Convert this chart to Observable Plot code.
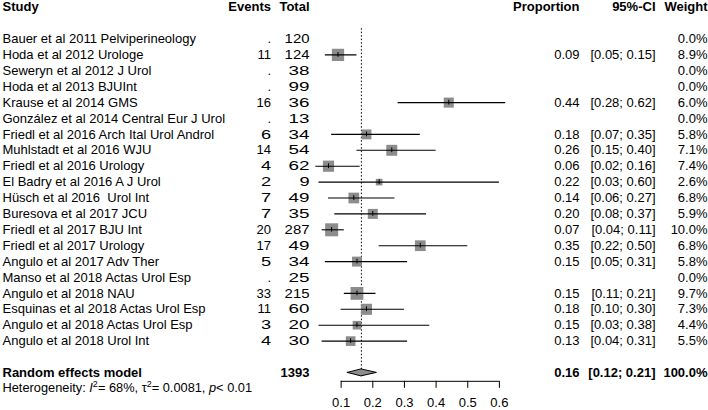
<!DOCTYPE html>
<html><head><meta charset="utf-8">
<script src="https://cdn.jsdelivr.net/npm/d3@7"></script>
<script src="https://cdn.jsdelivr.net/npm/@observablehq/plot@0.6"></script>
<style>
html,body{margin:0;padding:0;background:#fff}
svg{display:block}
text{white-space:pre}
</style>
</head><body><div id="chart"></div>
<script>
// ---- data ----
const studies = [
  "Bauer et al 2011 Pelviperineology",
  "Hoda et al 2012 Urologe",
  "Seweryn et al 2012 J Urol",
  "Hoda et al 2013 BJUInt",
  "Krause et al 2014 GMS",
  "González et al 2014 Central Eur J Urol",
  "Friedl et al 2016 Arch Ital Urol Androl",
  "Muhlstadt et al 2016 WJU",
  "Friedl et al 2016 Urology",
  "El Badry et al 2016 A J Urol",
  "Hüsch et al 2016  Urol Int",
  "Buresova et al 2017 JCU",
  "Friedl et al 2017 BJU Int",
  "Friedl et al 2017 Urology",
  "Angulo et al 2017 Adv Ther",
  "Manso et al 2018 Actas Urol Esp",
  "Angulo et al 2018 NAU",
  "Esquinas et al 2018 Actas Urol Esp",
  "Angulo et al 2018 Actas Urol Esp",
  "Angulo et al 2018 Urol Int"
];
const events     = [null, 11, null, null, 16, null, 6, 14, 4, 2, 7, 7, 20, 17, 5, null, 33, 11, 3, 4];
const totals     = [120, 124, 38, 99, 36, 13, 34, 54, 62, 9, 49, 35, 287, 49, 34, 25, 215, 60, 20, 30];
const proportion = [null, 0.09, null, null, 0.44, null, 0.18, 0.26, 0.06, 0.22, 0.14, 0.20, 0.07, 0.35, 0.15, null, 0.15, 0.18, 0.15, 0.13];
const ciLower    = [null, 0.05, null, null, 0.28, null, 0.07, 0.15, 0.02, 0.03, 0.06, 0.08, 0.04, 0.22, 0.05, null, 0.11, 0.10, 0.03, 0.04];
const ciUpper    = [null, 0.15, null, null, 0.62, null, 0.35, 0.40, 0.16, 0.60, 0.27, 0.37, 0.11, 0.50, 0.31, null, 0.21, 0.30, 0.38, 0.31];
const weights    = [0.0, 8.9, 0.0, 0.0, 6.0, 0.0, 5.8, 7.1, 7.4, 2.6, 6.8, 5.9, 10.0, 6.8, 5.8, 0.0, 9.7, 7.3, 4.4, 5.5];

const pooledLabel = "Random effects model";
const pooledTotal = 1393;
const pooledEstimate = 0.164;
const pooledLower = 0.121;
const pooledUpper = 0.213;
const pooledWeight = 100.0;

const hetI2 = "68%";
const hetTau2 = "0.0081";
const hetP = "< 0.01";

const axisTicks = [0.1, 0.2, 0.3, 0.4, 0.5, 0.6];
const headers = {study: "Study", events: "Events", total: "Total", prop: "Proportion", ci: "95%-CI", weight: "Weight"};

// ---- table built from the arrays ----
const rows = studies.map((s, i) => ({
  i, study: s, events: events[i], total: totals[i],
  est: proportion[i], lo: ciLower[i], hi: ciUpper[i], w: weights[i]
}));
const withEst = rows.filter(d => d.est != null);

// ---- layout ----
const W = 708, H = 410;
const x0 = 309, pxPerUnit = 316.5;            // pixel of value 0, pixels per unit
const rowTop = 38.5, rowStep = 15.9;          // pixel centre of first row, row height
const xDomain = [-x0 / pxPerUnit, (W - x0) / pxPerUnit];
const yDomain = [-rowTop / rowStep, (H - rowTop) / rowStep];
const headerRow = -2, pooledRow = 21, hetRow = 21.95, axisRow = 21.53, tickLen = 0.44, tickLabelRow = 22.88;
const col = {study: 2, events: 270.5, total: 309, prop: 579, ci: 655, weight: 707};
const gray = "#8c8c8c";
const font = "'Liberation Sans', Arial, Helvetica, sans-serif";
const fmtCI = (lo, hi) => `[${lo.toFixed(2)}; ${hi.toFixed(2)}]`;
// near-black marker colours used only to find text groups after rendering
const tagEvents = "#000001", tagTotals = "#000002", tagHet = "#000003";

const diamondH = 0.22;
const diamond = [
  {x: pooledLower, y1: pooledRow, y2: pooledRow},
  {x: pooledEstimate, y1: pooledRow - diamondH, y2: pooledRow + diamondH},
  {x: pooledUpper, y1: pooledRow, y2: pooledRow}
];

const txt = (data, opts) => Plot.text(data, {frameAnchor: "left", fontSize: 13, ...opts});

const chart = Plot.plot({
  width: W, height: H, margin: 0,
  x: {domain: xDomain, axis: null},
  y: {domain: yDomain, range: [0, H], axis: null},
  r: {type: "sqrt", domain: [0, 10], range: [0, 7.34]},
  style: {fontFamily: font, fontSize: "13px", background: "white", color: "black"},
  marks: [
    // headers
    txt([headers.study], {y: headerRow, text: d => d, textAnchor: "start", dx: col.study, fontWeight: "bold"}),
    txt([headers.events], {y: headerRow, text: d => d, textAnchor: "end", dx: col.events, fontWeight: "bold"}),
    txt([headers.total], {y: headerRow, text: d => d, textAnchor: "end", dx: col.total, fontWeight: "bold"}),
    txt([headers.prop], {y: headerRow, text: d => d, textAnchor: "end", dx: col.prop, fontWeight: "bold"}),
    txt([headers.ci], {y: headerRow, text: d => d, textAnchor: "end", dx: col.ci, fontWeight: "bold"}),
    txt([headers.weight], {y: headerRow, text: d => d, textAnchor: "end", dx: col.weight, fontWeight: "bold"}),

    // study rows
    txt(rows, {y: "i", text: "study", textAnchor: "start", dx: col.study}),
    txt(rows, {y: "i", text: d => d.events == null ? "." : String(d.events), textAnchor: "end", dx: col.events, fill: tagEvents}),
    txt(rows, {y: "i", text: d => String(d.total), textAnchor: "end", dx: col.total, fill: tagTotals}),
    txt(withEst, {y: "i", text: d => d.est.toFixed(2), textAnchor: "end", dx: col.prop}),
    txt(withEst, {y: "i", text: d => fmtCI(d.lo, d.hi), textAnchor: "end", dx: col.ci}),
    txt(rows, {y: "i", text: d => d.w.toFixed(1) + "%", textAnchor: "end", dx: col.weight}),

    // pooled row
    txt([pooledLabel], {y: pooledRow, text: d => d, textAnchor: "start", dx: col.study, fontWeight: "bold"}),
    txt([pooledTotal], {y: pooledRow, text: d => String(d), textAnchor: "end", dx: col.total, fontWeight: "bold"}),
    txt([pooledEstimate], {y: pooledRow, text: d => d.toFixed(2), textAnchor: "end", dx: col.prop, fontWeight: "bold"}),
    txt([0], {y: pooledRow, text: () => fmtCI(pooledLower, pooledUpper), textAnchor: "end", dx: col.ci, fontWeight: "bold"}),
    txt([pooledWeight], {y: pooledRow, text: d => d.toFixed(1) + "%", textAnchor: "end", dx: col.weight, fontWeight: "bold"}),

    // heterogeneity (rich text built after rendering)
    txt([0], {y: hetRow, text: () => `Heterogeneity: I2= ${hetI2}, τ2= ${hetTau2}, p${hetP}`, textAnchor: "start", dx: col.study, fontSize: 12.8, fill: tagHet}),

    // reference line at pooled estimate
    Plot.ruleX([pooledEstimate], {x: d => d, y1: -0.65, y2: 21.3, stroke: "black", strokeWidth: 1, strokeDasharray: "1.5,2"}),

    // squares, CIs, centre ticks
    Plot.dot(withEst, {x: "est", y: "i", r: "w", symbol: "square", fill: gray, stroke: "none"}),
    Plot.ruleY(withEst, {y: "i", x1: "lo", x2: "hi", stroke: "black", strokeWidth: 1.1}),
    Plot.ruleX(withEst, {x: "est", y1: d => d.i - 0.15, y2: d => d.i + 0.15, stroke: "black", strokeWidth: 1}),

    // diamond
    Plot.areaY(diamond, {x: "x", y1: "y1", y2: "y2", fill: gray, stroke: "black", strokeWidth: 1, curve: "linear"}),

    // x axis
    Plot.ruleY([axisRow], {y: d => d, x1: axisTicks[0], x2: axisTicks[axisTicks.length - 1], stroke: "black", strokeWidth: 1}),
    Plot.ruleX(axisTicks, {x: d => d, y1: axisRow, y2: axisRow + tickLen, stroke: "black", strokeWidth: 1}),
    Plot.text(axisTicks, {x: d => d, y: tickLabelRow, text: d => d.toFixed(1), fontSize: 13})
  ]
});

document.getElementById("chart").appendChild(chart);

function groupTexts(tag) {
  const out = [];
  chart.querySelectorAll("g").forEach(g => {
    const f = (g.getAttribute("fill") || "").toLowerCase();
    if (f === tag) { out.push(...g.querySelectorAll("text")); g.setAttribute("fill", "black"); }
  });
  return out;
}

// horizontal stretch of the count columns, as in the reference rendering
function stretchText(texts, factorFn) {
  texts.forEach(t => {
    const f = factorFn(t.textContent);
    if (f === 1) return;
    const tr = t.getAttribute("transform");
    if (tr) {
      t.setAttribute("transform", tr + ` scale(${f},1)`);
    } else {
      const x = +(t.getAttribute("x") || 0), y = +(t.getAttribute("y") || 0);
      t.removeAttribute("x"); t.removeAttribute("y");
      t.setAttribute("transform", `translate(${x},${y}) scale(${f},1)`);
    }
  });
}
stretchText(groupTexts(tagEvents), s => s === "." ? 1 : s.length === 1 ? 1.4 : 1);
stretchText(groupTexts(tagTotals), s => s.length === 1 ? 1.4 : s.length === 2 ? 1.45 : 1.15);

// heterogeneity label with italic / superscript parts
const hetTexts = groupTexts(tagHet);
if (hetTexts.length) {
  const het = hetTexts[0];
  het.textContent = "";
  const parts = [
    ["Heterogeneity: ", null],
    ["I", "it"], ["2", "sup"],
    [`= ${hetI2}, τ`, null], ["2", "sup"],
    [`= ${hetTau2}, `, null],
    ["p", "it"], [hetP, null]
  ];
  const ns = "http://www.w3.org/2000/svg";
  for (const [s, kind] of parts) {
    const ts = document.createElementNS(ns, "tspan");
    ts.textContent = s;
    if (kind === "it") ts.setAttribute("font-style", "italic");
    if (kind === "sup") { ts.setAttribute("baseline-shift", "super"); ts.setAttribute("font-size", "9"); }
    het.appendChild(ts);
  }
}
</script>
</body></html>
